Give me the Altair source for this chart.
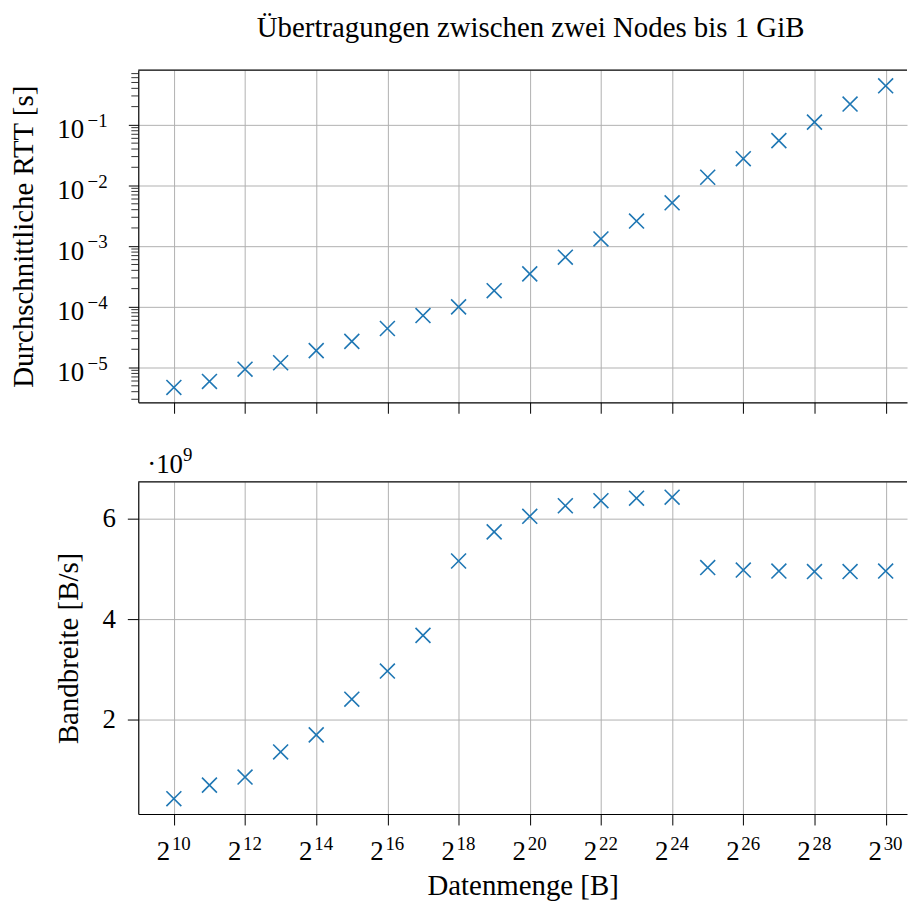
import altair as alt
import pandas as pd

# ---------------- data ----------------
exponents = list(range(10, 31))
sizes = [2 ** e for e in exponents]
rtt_s = [4.7e-6, 5.9e-6, 9.4e-6, 1.2e-5, 1.9e-5, 2.7e-5, 4.4e-5, 7.2e-5, 1.0e-4, 1.85e-4,
         3.5e-4, 6.6e-4, 1.32e-3, 2.6e-3, 5.2e-3, 1.37e-2, 2.77e-2, 5.5e-2, 0.111, 0.22, 0.44]
bandwidth_e9 = [0.43, 0.70, 0.86, 1.36, 1.70, 2.41, 2.97, 3.68, 5.16, 5.74, 6.05,
                6.26, 6.36, 6.41, 6.43, 5.03, 4.98, 4.96, 4.95, 4.95, 4.96]

x_tick_exponents = list(range(10, 31, 2))
x_tick_base = "2"
x_tick_sups = ["10", "12", "14", "16", "18", "20", "22", "24", "26", "28", "30"]
y_top_exponents = [-5, -4, -3, -2, -1]
y_top_base = "10"
y_top_sups = ["−5", "−4", "−3", "−2", "−1"]
y_bottom_ticks = [2, 4, 6]
title_text = "Übertragungen zwischen zwei Nodes bis 1 GiB"
x_title = "Datenmenge [B]"
y_top_title = "Durchschnittliche RTT [s]"
y_bottom_title = "Bandbreite [B/s]"
offset_base = "·10"
offset_sup = "9"

# ---------------- layout / style ----------------
W, H = 773, 334
FONT = "Liberation Serif"
BLUE = "#1f77b4"
XPATH = "M-1,-1L1,1M-1,1L1,-1"
LABEL_FS, SUP_FS, TITLE_FS = 27, 19, 29
x_lo, x_hi = 9.0, 30.6
y_top_lo, y_top_hi = -5.573, -0.098
y_bot_lo, y_bot_hi = 0.125, 6.735

df = pd.DataFrame({"size": sizes, "rtt": rtt_s, "bw": bandwidth_e9})
x_values = [2 ** e for e in x_tick_exponents]
y_top_values = [10.0 ** e for e in y_top_exponents]
xsup_df = pd.DataFrame({"size": x_values, "sup": x_tick_sups})
ysup_df = pd.DataFrame({"rtt": y_top_values, "sup": y_top_sups})

minor = [m * 10.0 ** k for k in range(-6, 0) for m in range(2, 10)]
minor = [v for v in minor if 10 ** y_top_lo <= v <= 10 ** y_top_hi]
minor_df = pd.DataFrame({"rtt": minor})
one = pd.DataFrame({"a": [0]})

xscale = alt.Scale(type="log", base=2, domain=[2 ** x_lo, 2 ** x_hi], nice=False)
top_yscale = alt.Scale(type="log", domain=[10 ** y_top_lo, 10 ** y_top_hi], nice=False)
bot_yscale = alt.Scale(domain=[y_bot_lo, y_bot_hi], nice=False, zero=False)

top_x_axis = alt.Axis(values=x_values, labels=False, title=None, tickSize=11)
top_y_axis = alt.Axis(values=y_top_values, labelExpr=f"'{y_top_base}'", title=y_top_title,
                      tickSize=10, labelPadding=45, labelBaseline="alphabetic", labelOffset=13,
                      titleX=-100, titleY=H / 2)
bot_x_axis = alt.Axis(values=x_values, labelExpr=f"'{x_tick_base}'", title=x_title,
                      tickSize=11, labelPadding=35, labelBaseline="alphabetic", labelOffset=-11,
                      titleY=81, titleBaseline="alphabetic")
bot_y_axis = alt.Axis(values=y_bottom_ticks, title=y_bottom_title, tickSize=11,
                      labelPadding=12, titleX=-55, titleY=H / 2)

marker = dict(shape=XPATH, size=225, filled=False, strokeWidth=1.6, color=BLUE, opacity=1)

# ---------------- top panel ----------------
top_points = alt.Chart(df).mark_point(**marker).encode(
    x=alt.X("size:Q", scale=xscale, axis=top_x_axis),
    y=alt.Y("rtt:Q", scale=top_yscale, axis=top_y_axis),
)
top_minor = alt.Chart(minor_df).mark_rule(color="black", strokeWidth=0.8).encode(
    y=alt.Y("rtt:Q", scale=top_yscale, axis=top_y_axis), x=alt.value(-7), x2=alt.value(0)
)
top_sup = alt.Chart(ysup_df).mark_text(
    align="left", baseline="alphabetic", font=FONT, fontSize=SUP_FS, color="black", dy=2
).encode(
    y=alt.Y("rtt:Q", scale=top_yscale, axis=top_y_axis), x=alt.value(-51), text="sup:N"
)
top_border = alt.Chart(one).mark_rule(color="black", strokeWidth=1.2).encode(
    x=alt.value(0), x2=alt.value(W), y=alt.value(0)
)
top = alt.layer(top_points, top_minor, top_sup, top_border).properties(width=W, height=H)

# ---------------- bottom panel ----------------
bot_points = alt.Chart(df).mark_point(**marker).encode(
    x=alt.X("size:Q", scale=xscale, axis=bot_x_axis),
    y=alt.Y("bw:Q", scale=bot_yscale, axis=bot_y_axis),
)
bot_sup = alt.Chart(xsup_df).mark_text(
    align="left", baseline="alphabetic", font=FONT, fontSize=SUP_FS, color="black", dx=-2
).encode(
    x=alt.X("size:Q", scale=xscale, axis=bot_x_axis), y=alt.value(H + 36), text="sup:N"
)
bot_off1 = alt.Chart(one).mark_text(
    align="left", baseline="alphabetic", font=FONT, fontSize=LABEL_FS, color="black"
).encode(x=alt.value(9), y=alt.value(-9), text=alt.value(offset_base))
bot_off2 = alt.Chart(one).mark_text(
    align="left", baseline="alphabetic", font=FONT, fontSize=SUP_FS, color="black"
).encode(x=alt.value(45), y=alt.value(-21), text=alt.value(offset_sup))
bot_border = alt.Chart(one).mark_rule(color="black", strokeWidth=1.2).encode(
    x=alt.value(0), x2=alt.value(W), y=alt.value(0)
)
bottom = alt.layer(bot_points, bot_sup, bot_off1, bot_off2, bot_border).properties(width=W, height=H)

chart = alt.vconcat(top, bottom, spacing=80, bounds="flush").properties(
    title=alt.Title(title_text, font=FONT, fontSize=TITLE_FS, fontWeight="normal", color="black",
                    anchor="middle", frame="group", offset=27, dx=8),
    padding={"left": 1, "top": 3, "right": 0, "bottom": 5},
).configure_view(stroke=None).configure_axis(
    labelFont=FONT, titleFont=FONT, labelFontSize=LABEL_FS, titleFontSize=TITLE_FS,
    labelColor="black", titleColor="black", titleFontWeight="normal",
    domainColor="black", domainWidth=1.2, tickColor="black", tickWidth=1,
    gridColor="#b0b0b0", gridWidth=1, gridOpacity=1,
)

chart.save("out.html", embed_options={"renderer": "svg", "actions": False})
